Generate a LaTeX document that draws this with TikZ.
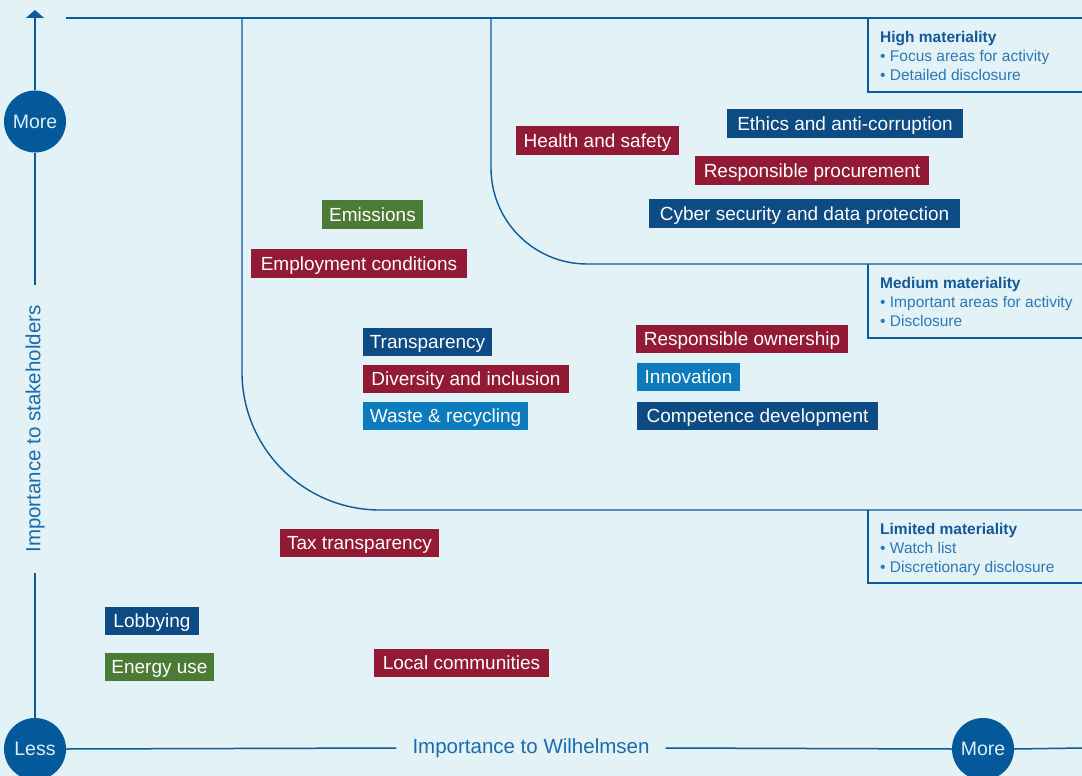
\documentclass[tikz,border=0pt]{standalone}
\usepackage{fontspec}
\setmainfont{Liberation Sans}
\usetikzlibrary{arrows.meta}
\definecolor{bg}{HTML}{E3F2F7}
\definecolor{axisc}{HTML}{0B5A9C}
\definecolor{circc}{HTML}{04599B}
\definecolor{tred}{HTML}{931A35}
\definecolor{tdblue}{HTML}{0D4B84}
\definecolor{tgreen}{HTML}{4B7B34}
\definecolor{tmblue}{HTML}{0B7BBE}
\definecolor{ltitle}{HTML}{12589A}
\definecolor{litem}{HTML}{2C78B8}
\definecolor{axtext}{HTML}{1A6CAE}
\definecolor{circtext}{HTML}{DCEEF8}
\begin{document}
\begin{tikzpicture}[x=1pt,y=-1pt,
  axisline/.style={draw=axisc,line width=1.5pt},
  zone/.style={draw=axisc,line width=1.4pt},
  circnode/.style={circle,fill=circc,minimum size=62pt,inner sep=0pt,text=circtext,font=\fontsize{19.5}{22}\selectfont},
  axlabel/.style={text=axtext,font=\fontsize{20.5}{23}\selectfont,inner ysep=0pt},
  topic/.style={text=white,inner sep=0pt,minimum height=29pt,text height=13pt,text depth=0pt,font=\fontsize{19}{22}\selectfont},
  legend/.style={anchor=north west,align=left,inner sep=0pt,text=litem,font=\fontsize{15.5}{19}\selectfont}]
\fill[bg] (0,0) rectangle (1082,776);
\useasboundingbox (0,0) rectangle (1082,776);

% zones
\draw[zone] (66,18) -- (1082,18);
\draw[zone,rounded corners=138pt] (242,18) -- (242,510) -- (1082,510);
\draw[zone,rounded corners=96pt] (491,18) -- (491,264) -- (1082,264);
\draw[zone] (868,18) -- (868,92) -- (1082,92);
\draw[zone] (868,264) -- (868,338) -- (1082,338);
\draw[zone] (868,510) -- (868,583) -- (1082,583);

% legends
\node[legend] (lhigh) at (880,31) {{\color{ltitle}\bfseries High materiality}\\• Focus areas for activity\\• Detailed disclosure};
\node[legend] (lmed) at (880,277) {{\color{ltitle}\bfseries Medium materiality}\\• Important areas for activity\\• Disclosure};
\node[legend] (llim) at (880,523) {{\color{ltitle}\bfseries Limited materiality}\\• Watch list\\• Discretionary disclosure};

% axes
\coordinate (ytip) at (35,10);
\coordinate (xend) at (1082,748);
\node[circnode] (moreY) at (35,121.5) {More};
\node[circnode] (lessC) at (35,749) {Less};
\node[circnode] (moreX) at (983,749) {More};
\node[axlabel,rotate=90,inner xsep=20pt] (ylab) at (35,429) {Importance to stakeholders};
\node[axlabel,inner xsep=16pt] (xlab) at (531,748) {Importance to Wilhelmsen};
\draw[axisline,-{Triangle[width=18pt,length=8pt]}] (moreY.north) -- (ytip);
\draw[axisline] (ylab.east) -- (moreY.south);
\draw[axisline] (lessC.north) -- (ylab.west);
\draw[axisline] (lessC.east) -- (xlab.west);
\draw[axisline] (xlab.east) -- (moreX.west);
\draw[axisline] (moreX.east) -- (xend);

% topics
\node[topic,fill=tred,minimum width=163pt] (hs) at (597.5,140.5) {Health and safety};
\node[topic,fill=tdblue,minimum width=236pt] (eth) at (845,123.5) {Ethics and anti-corruption};
\node[topic,fill=tred,minimum width=234pt] (rp) at (812,170.5) {Responsible procurement};
\node[topic,fill=tdblue,minimum width=311pt] (cyb) at (804.5,213.5) {Cyber security and data protection};
\node[topic,fill=tgreen,minimum width=101pt] (emi) at (372.5,214.5) {Emissions};
\node[topic,fill=tred,minimum width=216pt] (emp) at (359,263.5) {Employment conditions};
\node[topic,fill=tdblue,minimum width=129pt,minimum height=28pt] (tra) at (427.5,342) {Transparency};
\node[topic,fill=tred,minimum width=206pt,minimum height=28pt] (div) at (466,379) {Diversity and inclusion};
\node[topic,fill=tmblue,minimum width=165pt,minimum height=28pt] (was) at (445.5,416) {Waste \& recycling};
\node[topic,fill=tred,minimum width=212pt,minimum height=28pt] (row) at (742,339) {Responsible ownership};
\node[topic,fill=tmblue,minimum width=103pt,minimum height=28pt] (inn) at (688.5,377) {Innovation};
\node[topic,fill=tdblue,minimum width=241pt,minimum height=28pt] (com) at (757.5,416) {Competence development};
\node[topic,fill=tred,minimum width=159pt,minimum height=28pt] (tax) at (359.5,543) {Tax transparency};
\node[topic,fill=tdblue,minimum width=94pt,minimum height=28pt] (lob) at (152,621) {Lobbying};
\node[topic,fill=tgreen,minimum width=109pt,minimum height=28pt] (ene) at (159.5,667) {Energy use};
\node[topic,fill=tred,minimum width=175pt,minimum height=28pt] (loc) at (461.5,663) {Local communities};
\end{tikzpicture}
\end{document}
